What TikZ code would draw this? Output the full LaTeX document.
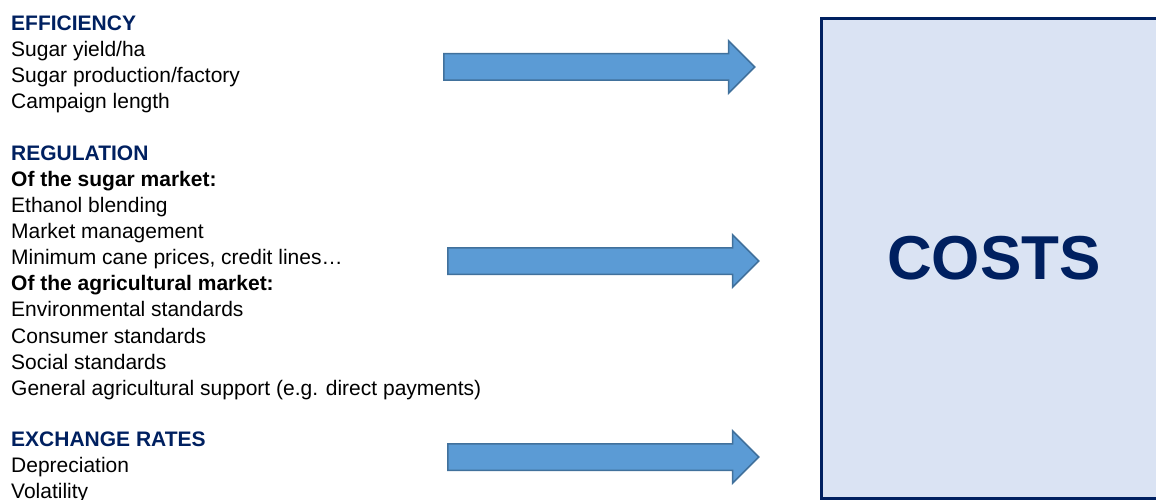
\documentclass[tikz,border=0pt]{standalone}
\usepackage{fontspec}
\setmainfont{Liberation Sans}
\usepackage{tikz}
\usetikzlibrary{shapes.arrows}
\definecolor{navy}{HTML}{002060}
\definecolor{arrowfill}{HTML}{5B9BD5}
\definecolor{arrowline}{HTML}{41719C}
\definecolor{boxfill}{HTML}{DAE3F3}

\begin{document}
\begin{tikzpicture}[x=1pt,y=-1pt,
  txt/.style={anchor=north west,align=left,inner sep=0pt,font=\fontsize{21}{26.1}\selectfont},
  bigarrow/.style={single arrow,anchor=west,draw=arrowline,fill=arrowfill,line width=1.5pt,inner xsep=0pt,inner ysep=12.5pt,single arrow head extend=13pt,minimum height=311pt},
  costbox/.style={draw=navy,fill=boxfill,line width=3pt,minimum width=346pt,minimum height=479pt,inner sep=0pt,text=navy,font=\fontsize{62}{70}\selectfont\bfseries}]
\useasboundingbox (0,0) rectangle (1156,500);
\node[costbox] (costs) at (994,258.5) {COSTS};
\node[txt] (eff) at (11,15.5) {{\bfseries\color{navy}EFFICIENCY}\\Sugar yield/ha\\Sugar production/factory\\Campaign length};
\node[txt] (reg) at (11,145.5) {{\bfseries\color{navy}REGULATION}\\\textbf{Of the sugar market:}\\Ethanol blending\\Market management\\Minimum cane prices, credit lines…\\\textbf{Of the agricultural market:}\\Environmental standards\\Consumer standards\\Social standards\\General agricultural support (e.g. direct payments)};
\node[txt] (exch) at (11,431.5) {{\bfseries\color{navy}EXCHANGE RATES}\\Depreciation\\Volatility};
\node[bigarrow] (effarrow) at (443,67) {};
\node[bigarrow] (regarrow) at (447,261) {};
\node[bigarrow] (exarrow) at (447,457) {};
\end{tikzpicture}
\end{document}
